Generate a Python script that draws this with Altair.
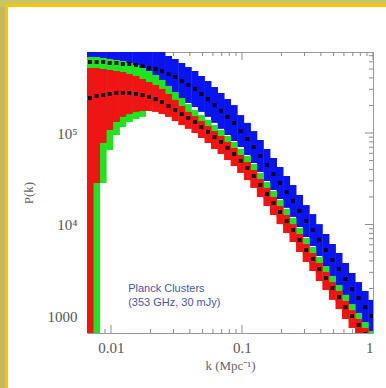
import altair as alt
import pandas as pd

# wavenumber bins (Mpc^-1)
k = [0.00692, 0.00776, 0.00871, 0.00977, 0.0110, 0.0123, 0.0138, 0.0155, 0.0174, 0.0195,
     0.0219, 0.0245, 0.0275, 0.0309, 0.0347, 0.0389, 0.0437, 0.0490, 0.0550, 0.0617,
     0.0692, 0.0776, 0.0871, 0.0977, 0.110, 0.123, 0.138, 0.155, 0.174, 0.195,
     0.219, 0.245, 0.275, 0.309, 0.347, 0.389, 0.437, 0.490, 0.550, 0.617,
     0.692, 0.776, 0.871, 0.977]

# upper (blue) spectrum: centre and error bar
blue_c = [5.97e5, 5.97e5, 5.97e5, 5.82e5, 5.82e5, 5.68e5, 5.68e5, 5.53e5, 5.40e5, 5.13e5,
          5.00e5, 4.75e5, 4.42e5, 4.09e5, 3.70e5, 3.35e5, 3.03e5, 2.67e5, 2.35e5, 2.02e5,
          1.74e5, 1.50e5, 1.29e5, 1.05e5, 8.60e4, 7.03e4, 5.61e4, 4.47e4, 3.56e4, 2.84e4,
          2.26e4, 1.81e4, 1.41e4, 1.09e4, 8710, 6780, 5260, 4090, 3260, 2540,
          1970, 1570, 1250, 1000]
blue_hi = [1.12e6, 1.12e6, 1.12e6, 1.09e6, 1.09e6, 1.07e6, 1.07e6, 1.04e6, 1.01e6, 8.93e5,
           8.28e5, 7.68e5, 6.94e5, 6.44e5, 5.82e5, 5.26e5, 4.76e5, 4.20e5, 3.70e5, 3.18e5,
           2.74e5, 2.35e5, 2.02e5, 1.57e5, 1.29e5, 1.05e5, 8.39e4, 6.69e4, 5.33e4, 4.25e4,
           3.39e4, 2.70e4, 2.10e4, 1.63e4, 1.30e4, 1.01e4, 7880, 6120, 4880, 3800,
           2950, 2350, 1880, 1500]
blue_lo = [3.18e5, 3.18e5, 3.18e5, 3.10e5, 3.10e5, 3.03e5, 3.03e5, 2.95e5, 2.88e5, 2.95e5,
           3.03e5, 2.95e5, 2.81e5, 2.60e5, 2.35e5, 2.13e5, 1.92e5, 1.70e5, 1.50e5, 1.29e5,
           1.11e5, 9.51e4, 8.18e4, 7.03e4, 5.75e4, 4.70e4, 3.75e4, 2.99e4, 2.38e4, 1.90e4,
           1.52e4, 1.21e4, 9390, 7300, 5820, 4530, 3520, 2740, 2180, 1700,
           1320, 1050, 839, 669]

# lower spectrum: centre, green and red error bars
low_c = [2.41e5, 2.54e5, 2.60e5, 2.67e5, 2.74e5, 2.74e5, 2.74e5, 2.67e5, 2.60e5, 2.48e5,
         2.35e5, 2.18e5, 1.97e5, 1.78e5, 1.61e5, 1.46e5, 1.32e5, 1.16e5, 1.03e5, 9.04e4,
         7.98e4, 6.86e4, 5.90e4, 4.94e4, 4.14e4, 3.39e4, 2.70e4, 2.15e4, 1.72e4, 1.37e4,
         1.09e4, 8710, 6780, 5260, 4200, 3260, 2600, 2020, 1610, 1250,
         1000, 798, 636, 507]
green_hi = [6.77e5, 6.77e5, 6.60e5, 6.44e5, 6.28e5, 6.12e5, 5.82e5, 5.54e5, 5.13e5, 4.76e5,
            4.31e5, 3.80e5, 3.27e5, 2.81e5, 2.41e5, 2.07e5, 1.78e5, 1.57e5, 1.39e5, 1.22e5,
            1.08e5, 9.27e4, 7.98e4, 6.69e4, 5.61e4, 4.58e4, 3.66e4, 2.91e4, 2.32e4, 1.85e4,
            1.48e4, 1.18e4, 9160, 7120, 5680, 4410, 3520, 2740, 2180, 1700,
            1350, 1080, 860, 686]
green_lo = [100, 100, 2.84e4, 6.52e4, 9.51e4, 1.16e5, 1.32e5, 1.42e5, 1.50e5, 2.18e5,
            2.07e5, 1.92e5, 1.74e5, 1.57e5, 1.42e5, 1.29e5, 1.16e5, 1.03e5, 9.04e4, 7.98e4,
            7.03e4, 6.05e4, 5.20e4, 4.36e4, 3.66e4, 2.99e4, 2.38e4, 1.90e4, 1.52e4, 1.21e4,
            9630, 7680, 5970, 4640, 3700, 2880, 2290, 1780, 1420, 1110,
            882, 703, 561, 447]
red_hi = [5.13e5, 5.13e5, 5.01e5, 4.88e5, 4.76e5, 4.64e5, 4.41e5, 4.20e5, 3.89e5, 3.61e5,
          3.35e5, 3.03e5, 2.67e5, 2.30e5, 1.97e5, 1.70e5, 1.53e5, 1.35e5, 1.19e5, 1.05e5,
          9.27e4, 7.98e4, 6.86e4, 5.75e4, 4.82e4, 3.94e4, 3.14e4, 2.51e4, 2.00e4, 1.59e4,
          1.27e4, 1.01e4, 7880, 6120, 4880, 3800, 3030, 2350, 1880, 1460,
          1160, 927, 740, 590]
red_lo = [100, 2.84e4, 7.78e4, 1.08e5, 1.32e5, 1.50e5, 1.61e5, 1.70e5, 1.74e5, 1.74e5,
          1.70e5, 1.61e5, 1.50e5, 1.35e5, 1.22e5, 1.11e5, 1.00e5, 8.82e4, 7.78e4, 6.69e4,
          5.90e4, 5.07e4, 4.36e4, 3.66e4, 3.06e4, 2.51e4, 2.00e4, 1.59e4, 1.27e4, 1.01e4,
          8080, 6440, 5010, 3890, 3100, 2410, 1920, 1500, 1190, 927,
          740, 590, 470, 375]

x_major = [0.01, 0.1, 1]
x_minor = [0.007, 0.008, 0.009, 0.02, 0.03, 0.04, 0.05, 0.06, 0.07, 0.08, 0.09,
           0.2, 0.3, 0.4, 0.5, 0.6, 0.7, 0.8, 0.9]
y_major = [1000, 10000, 100000]
y_minor = [700, 800, 900, 2000, 3000, 4000, 5000, 6000, 7000, 8000, 9000,
           20000, 30000, 40000, 50000, 60000, 70000, 80000, 90000,
           200000, 300000, 400000, 500000, 600000, 700000]

note_lines = ["Planck Clusters", "(353 GHz, 30 mJy)"]
note_k = [0.01352, 0.01352]
note_p = [1973, 1388]

W, H = 286, 281

df = pd.DataFrame({"k": k, "blue_c": blue_c, "blue_hi": blue_hi, "blue_lo": blue_lo,
                   "low_c": low_c, "green_hi": green_hi, "green_lo": green_lo,
                   "red_hi": red_hi, "red_lo": red_lo})
notes = pd.DataFrame({"text": note_lines, "k": note_k, "p": note_p})

xs = alt.Scale(type="log", domain=[0.00656, 1], nice=False)
ys = alt.Scale(type="log", domain=[652, 7.68e5], nice=False)
SERIF = "Liberation Serif"
TICK = "#8c8c8c"

base = alt.Chart(df)

# decorative page frame (olive margin + yellow border)
one = pd.DataFrame({"a": [0]})
def deco(x1, x2, y1, y2, color):
    return alt.Chart(one).mark_rect(color=color).encode(
        x=alt.value(x1), x2=alt.value(x2), y=alt.value(y1), y2=alt.value(y2))

decor = [
    deco(-90, -79, -60, 340, "#c5b75c"),
    deco(-90, 310, -60, -45, "#c8c462"),
    deco(-82, -79, -48, 340, "#f7c600"),
    deco(-82, 310, -48, -45, "#f7c600"),
]

# inward tick marks on all four sides of the frame (drawn beneath the data)
def xticks(vals, length):
    d = alt.Chart(pd.DataFrame({"v": vals}))
    bottom = d.mark_rule(color=TICK, strokeWidth=1).encode(
        x=alt.X("v:Q", scale=xs), y=alt.value(H - length), y2=alt.value(H))
    top = d.mark_rule(color=TICK, strokeWidth=1).encode(
        x=alt.X("v:Q", scale=xs), y=alt.value(0), y2=alt.value(length))
    return [bottom, top]

def yticks(vals, length):
    d = alt.Chart(pd.DataFrame({"v": vals}))
    left = d.mark_rule(color=TICK, strokeWidth=1).encode(
        y=alt.Y("v:Q", scale=ys), x=alt.value(0), x2=alt.value(length))
    right = d.mark_rule(color=TICK, strokeWidth=1).encode(
        y=alt.Y("v:Q", scale=ys), x=alt.value(W - length), x2=alt.value(W))
    return [left, right]

ticks = xticks(x_major, 8) + xticks(x_minor, 4) + yticks(y_major, 8) + yticks(y_minor, 4)

main_x = alt.Axis(values=x_major, format="~g", title="k (Mpc\u207b\u00b9)", orient="bottom",
                  ticks=False, domain=False, grid=False, labelFont=SERIF, labelFontSize=15,
                  labelColor="#555", labelPadding=7, titleFont=SERIF, titleFontSize=13,
                  titleFontWeight="normal", titleColor="#666", titlePadding=4)
main_y = alt.Axis(values=y_major,
                  labelExpr="datum.value >= 100000 ? '10\u2075' : (datum.value >= 10000 ? '10\u2074' : '1000')",
                  title="P(k)", orient="left", ticks=False, domain=False, grid=False,
                  labelFont=SERIF, labelFontSize=15, labelColor="#555", labelPadding=10,
                  titleFont=SERIF, titleFontSize=13, titleFontWeight="normal",
                  titleColor="#666", titlePadding=12)

blue = base.mark_rule(color="#0a14f0", strokeWidth=7, clip=True).encode(
    x=alt.X("k:Q", scale=xs, axis=main_x),
    y=alt.Y("blue_lo:Q", scale=ys, axis=main_y),
    y2="blue_hi:Q")
green = base.mark_rule(color="#1ee61e", strokeWidth=7, clip=True).encode(
    x=alt.X("k:Q", scale=xs),
    y=alt.Y("green_lo:Q", scale=ys),
    y2="green_hi:Q")
red = base.mark_rule(color="#f01414", strokeWidth=7, clip=True).encode(
    x=alt.X("k:Q", scale=xs),
    y=alt.Y("red_lo:Q", scale=ys),
    y2="red_hi:Q")
blue_pts = base.mark_square(color="black", size=16, opacity=0.9, clip=True).encode(
    x=alt.X("k:Q", scale=xs),
    y=alt.Y("blue_c:Q", scale=ys))
low_pts = base.mark_square(color="black", size=16, opacity=0.9, clip=True).encode(
    x=alt.X("k:Q", scale=xs),
    y=alt.Y("low_c:Q", scale=ys))

note = alt.Chart(notes).mark_text(align="left", baseline="middle", font="Liberation Sans",
                                  fontSize=11, color="#4a55a8").encode(
    x=alt.X("k:Q", scale=xs),
    y=alt.Y("p:Q", scale=ys),
    text="text:N")

chart = alt.layer(*decor, *ticks, blue, green, red, blue_pts, low_pts, note).properties(
    width=W, height=H,
    autosize=alt.AutoSizeParams(type="none"),
    padding={"left": 87, "top": 52, "right": 13, "bottom": 55},
    background="white",
).configure_view(stroke="#9a9a9a", strokeWidth=1)

chart.save("out.html", embed_options={"renderer": "svg", "actions": False})
